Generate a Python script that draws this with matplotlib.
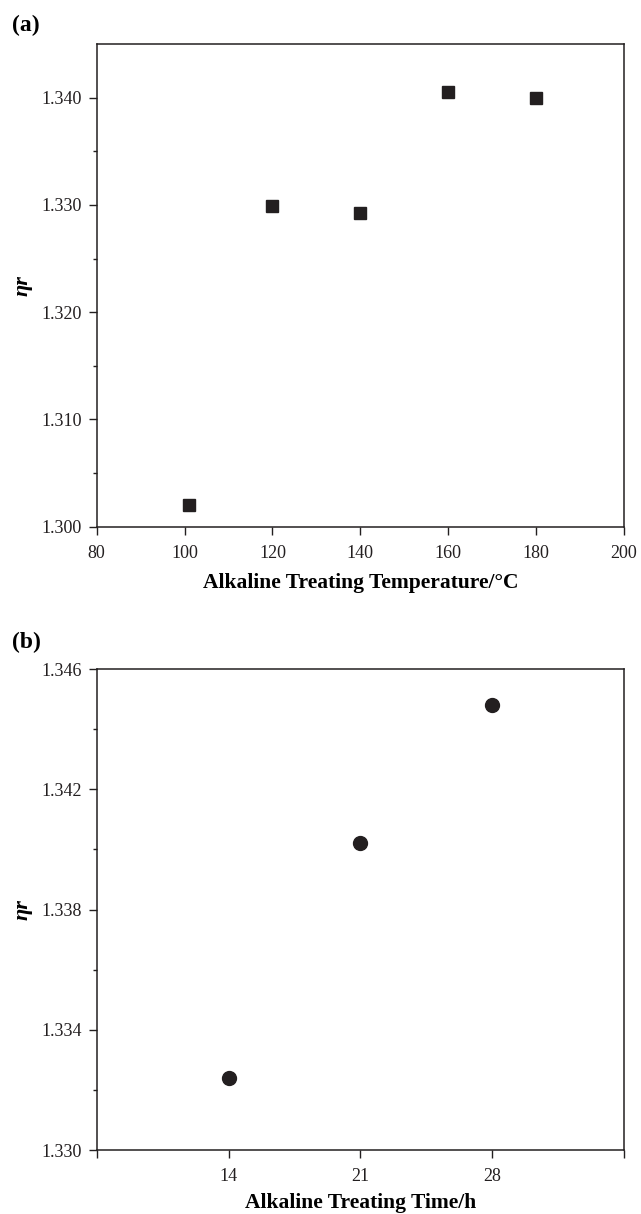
import matplotlib
matplotlib.use("Agg")
import matplotlib.pyplot as plt
from matplotlib.ticker import MultipleLocator, FixedLocator

# Relative viscosity vs alkaline treating temperature
temperature = [101, 120, 140, 160, 180]
eta_temp = [1.3020, 1.3299, 1.3292, 1.3405, 1.3400]

# Relative viscosity vs alkaline treating time
time_h = [14, 21, 28]
eta_time = [1.3324, 1.3402, 1.3448]

plt.rcParams['font.family'] = ['Liberation Serif', 'DejaVu Serif']
plt.rcParams['font.size'] = 13
plt.rcParams['axes.linewidth'] = 1.1

ink = '#231f20'

fig = plt.figure(figsize=(6.41, 12.14), dpi=100)
ax1 = fig.add_axes([0.1509, 0.5661, 0.8226, 0.3977])
ax2 = fig.add_axes([0.1509, 0.0527, 0.8226, 0.3962])

# (a) temperature series
ax1.plot(temperature, eta_temp, linestyle='none', marker='s', markersize=8.5, color=ink)
ax1.set_xlim(80, 200)
ax1.set_ylim(1.300, 1.345)
ax1.xaxis.set_major_locator(MultipleLocator(20))
ax1.yaxis.set_major_locator(FixedLocator([1.300, 1.310, 1.320, 1.330, 1.340]))
ax1.yaxis.set_minor_locator(FixedLocator([1.305, 1.315, 1.325, 1.335]))
ax1.yaxis.set_major_formatter(plt.FormatStrFormatter('%.3f'))
ax1.set_xlabel('Alkaline Treating Temperature/°C', fontsize=15.5, fontweight='bold', labelpad=8)

# (b) time series
ax2.plot(time_h, eta_time, linestyle='none', marker='o', markersize=10, color=ink)
ax2.set_xlim(7, 35)
ax2.set_ylim(1.330, 1.346)
ax2.xaxis.set_major_locator(FixedLocator([7, 14, 21, 28, 35]))
ax2.set_xticklabels(['', '14', '21', '28', ''])
ax2.yaxis.set_major_locator(FixedLocator([1.330, 1.334, 1.338, 1.342, 1.346]))
ax2.yaxis.set_minor_locator(FixedLocator([1.332, 1.336, 1.340, 1.344]))
ax2.yaxis.set_major_formatter(plt.FormatStrFormatter('%.3f'))
ax2.set_xlabel('Alkaline Treating Time/h', fontsize=15.5, fontweight='bold', labelpad=6)

for ax in (ax1, ax2):
    ax.tick_params(axis='both', which='major', direction='out', length=6, width=1.0,
                   labelsize=13, colors=ink, top=False, right=False)
    ax.tick_params(axis='x', which='major', pad=7)
    ax.tick_params(axis='y', which='major', pad=5)
    ax.tick_params(axis='y', which='minor', direction='out', length=3, width=1.0, colors=ink)
    ax.tick_params(axis='x', which='minor', bottom=False)
    for sp in ax.spines.values():
        sp.set_color(ink)
    ax.set_ylabel('ηr', fontsize=16, fontstyle='italic', fontweight='bold', labelpad=6)

fig.text(0.019, 0.979, '(a)', fontsize=17, fontweight='bold', va='center', ha='left')
fig.text(0.019, 0.471, '(b)', fontsize=17, fontweight='bold', va='center', ha='left')

fig.savefig('out.png', dpi=100, facecolor='white')
